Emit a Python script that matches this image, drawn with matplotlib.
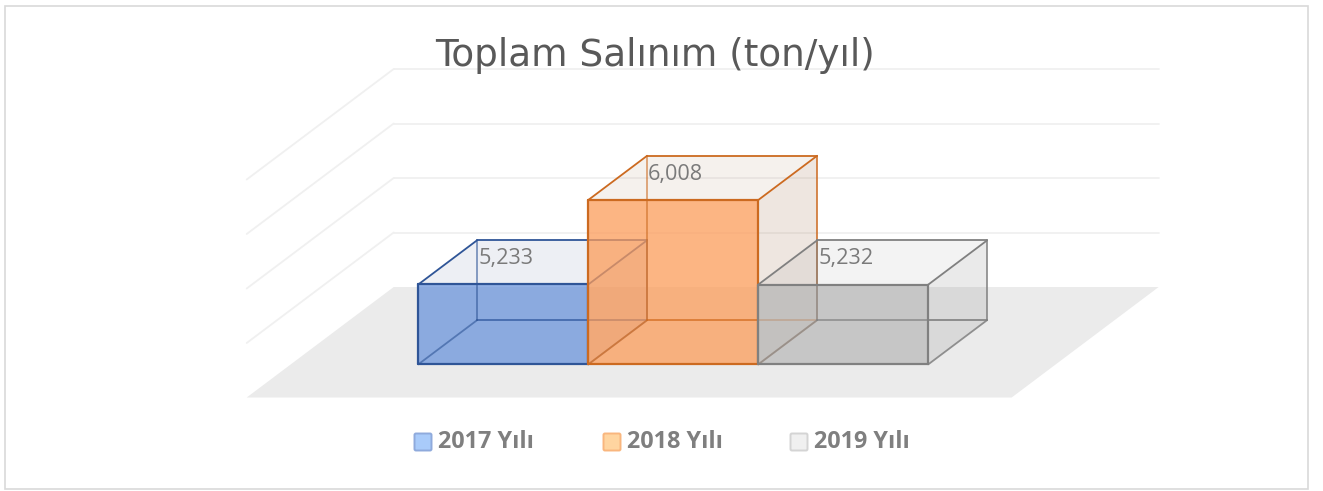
import matplotlib
matplotlib.use('Agg')
import matplotlib.pyplot as plt
from matplotlib.patches import Polygon, Rectangle, FancyBboxPatch

#Data
years = ['2017 Yılı', '2018 Yılı', '2019 Yılı']
values = [5233, 6008, 5232]
value_labels = ['5,233', '6,008', '5,232']
grid_values = [5000, 5500, 6000, 6500]
title = 'Toplam Salınım (ton/yıl)'

#Colours per series
front_colors = ['#6B94DB', '#FC9C5A', '#BABABA']
edge_colors = ['#2F5597', '#CC6A20', '#808080']
wall_colors = ['#425890', '#9B6941', '#7D7D7D']
legend_fill = ['#A9CBFA', '#FFD5A0', '#F0F0F0']
legend_edge = ['#8FAADC', '#F9B67E', '#D4D4D4']

#Oblique projection of the 3D plot, in pixels
AXIS_MIN = 4500
PX_PER_VALUE = 0.109
BAR_PX = 170
ORIGIN_X, ORIGIN_Y = 246.7, 397.5
DEPTH_X, DEPTH_Y = 147, 110.5
N_UNITS = 4.5     # plot width in bar widths
GAP = 0.75        # gap before the first bar
D0, D1 = 0.3, 0.7 # bar depth range

#Patches and lines have different default zorders, so count them up by hand
order = [10]


def next_z():
    order[0] += 1
    return order[0]


def project(x, depth, value):
    px = ORIGIN_X + x * BAR_PX + depth * DEPTH_X
    py = ORIGIN_Y - (value - AXIS_MIN) * PX_PER_VALUE - depth * DEPTH_Y
    return px, py


def face(ax, pts, **kw):
    ax.add_patch(Polygon([project(*p) for p in pts], closed=True, zorder=next_z(), **kw))


def edge(ax, a, b, color, lw=1.3, alpha=1.0):
    p, q = project(*a), project(*b)
    ax.plot([p[0], q[0]], [p[1], q[1]], color=color, lw=lw, alpha=alpha,
            solid_capstyle='round', zorder=next_z())


fig = plt.figure(figsize=(13.23, 4.91), dpi=100)
ax = fig.add_axes([0, 0, 1, 1])
ax.set_xlim(0, 1323)
ax.set_ylim(491, 0)
ax.axis('off')

#Outer frame
ax.add_patch(Rectangle((5, 6), 1303, 483, fill=False, ec='#D9D9D9', lw=1.2))

#Floor
face(ax, [(0, 0, AXIS_MIN), (N_UNITS, 0, AXIS_MIN), (N_UNITS, 1, AXIS_MIN), (0, 1, AXIS_MIN)],
     fc='#EBEBEB', ec='none')

#Gridlines on the left and back walls
for v in grid_values:
    edge(ax, (0, 0, v), (0, 1, v), '#F0F0F0', lw=1.3)
    edge(ax, (0, 1, v), (N_UNITS, 1, v), '#F0F0F0', lw=1.3)

#Bars, left to right so that later ones sit on top
for i, v in enumerate(values):
    x0 = GAP + i
    x1 = x0 + 1
    ec = edge_colors[i]
    #top and right side are nearly clear
    face(ax, [(x0, D0, v), (x1, D0, v), (x1, D1, v), (x0, D1, v)],
         fc=wall_colors[i], alpha=0.09, ec='none')
    face(ax, [(x1, D0, AXIS_MIN), (x1, D1, AXIS_MIN), (x1, D1, v), (x1, D0, v)],
         fc=wall_colors[i], alpha=0.16, ec='none')
    #outer back edges, partly covered by the next bar
    edge(ax, (x0, D1, v), (x1, D1, v), ec)
    edge(ax, (x1, D1, v), (x1, D1, AXIS_MIN), ec, alpha=0.85)
    edge(ax, (x1, D0, AXIS_MIN), (x1, D1, AXIS_MIN), ec, alpha=0.85)
    edge(ax, (x0, D1, AXIS_MIN), (x1, D1, AXIS_MIN), ec, alpha=0.7)
    edge(ax, (x1, D0, v), (x1, D1, v), ec)
    #front face
    face(ax, [(x0, D0, AXIS_MIN), (x1, D0, AXIS_MIN), (x1, D0, v), (x0, D0, v)],
         fc=front_colors[i], alpha=0.75, ec='none')
    #hidden edges show through its own front
    edge(ax, (x0, D1, AXIS_MIN), (x0, D1, v), ec, alpha=0.6)
    edge(ax, (x0, D0, AXIS_MIN), (x0, D1, AXIS_MIN), ec, alpha=0.6)
    edge(ax, (x0, D1, AXIS_MIN), (x1, D1, AXIS_MIN), ec, alpha=0.6)
    #visible edges
    edge(ax, (x0, D0, AXIS_MIN), (x1, D0, AXIS_MIN), ec, lw=1.6)
    edge(ax, (x1, D0, AXIS_MIN), (x1, D0, v), ec, lw=1.6)
    edge(ax, (x1, D0, v), (x0, D0, v), ec, lw=1.6)
    edge(ax, (x0, D0, v), (x0, D0, AXIS_MIN), ec, lw=1.6)
    edge(ax, (x0, D0, v), (x0, D1, v), ec)
    #value label just inside the back wall
    lx, ly = project(x0, D1, v)
    ax.text(lx + 1, ly + 18.5, value_labels[i], color='#7A7A7A', fontsize=15.6,
            family='Open Sans', ha='left', va='center', zorder=500)

ax.text(655, 66, title, color='#595959', fontsize=26.9, family='DejaVu Sans',
        ha='center', va='baseline', zorder=500)

#Legend
legend_x = [414, 603, 790]
for i, name in enumerate(years):
    ax.add_patch(FancyBboxPatch((legend_x[i] + 0.5, 433.5), 17, 17,
                                boxstyle='round,pad=0,rounding_size=1.5',
                                fc=legend_fill[i], ec=legend_edge[i], lw=1.4))
    ax.text(legend_x[i] + 24, 442, name, color='#7F7F7F', fontsize=16.8,
            family='Open Sans', fontweight='bold', ha='left', va='center')

fig.savefig('out.png', dpi=100)
